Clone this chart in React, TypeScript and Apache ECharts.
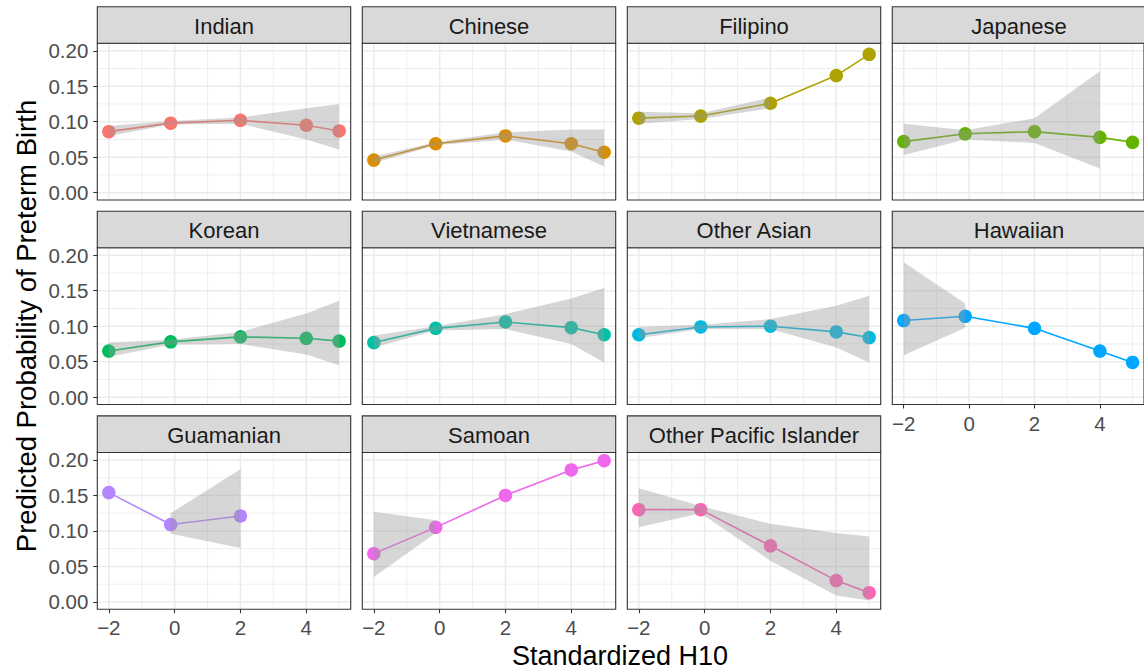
import React, { useEffect, useRef } from "react";
import * as echarts from "echarts";

// ---------- data ----------
const groups = [
  "Indian", "Chinese", "Filipino", "Japanese", "Korean", "Vietnamese",
  "Other Asian", "Hawaiian", "Guamanian", "Samoan", "Other Pacific Islander",
];
const groupColors = [
  "#F8766D", "#DB8E00", "#AEA200", "#64B200", "#00BD5C", "#00C1A7",
  "#00BADE", "#00A6FF", "#B385FF", "#EF67EB", "#FF63B6",
];
const h10 = [-2, -0.12, 2, 4, 5];
const xTicks = [-2, 0, 2, 4];
const xMinorTicks = [-1, 1, 3, 5];
const yTicks = [0, 0.05, 0.1, 0.15, 0.2];
const yMinorTicks = [0.025, 0.075, 0.125, 0.175];

const fitIndian = [0.086, 0.098, 0.102, 0.095, 0.087];
const loIndian = [0.080, 0.096, 0.097, 0.075, 0.061];
const hiIndian = [0.094, 0.101, 0.106, 0.119, 0.125];

const fitChinese = [0.046, 0.069, 0.080, 0.069, 0.057];
const loChinese = [0.042, 0.067, 0.075, 0.058, 0.037];
const hiChinese = [0.051, 0.071, 0.085, 0.089, 0.089];

const fitFilipino = [0.105, 0.108, 0.126, 0.165, 0.195];
const loFilipino = [0.097, 0.104, 0.119, null, null];
const hiFilipino = [0.114, 0.112, 0.134, null, null];

const fitJapanese = [0.072, 0.083, 0.086, 0.078, 0.071];
const loJapanese = [0.053, 0.075, 0.070, 0.034, null];
const hiJapanese = [0.097, 0.088, 0.105, 0.171, null];

const fitKorean = [0.065, 0.078, 0.085, 0.083, 0.079];
const loKorean = [0.057, 0.074, 0.075, 0.060, 0.045];
const hiKorean = [0.077, 0.081, 0.092, 0.118, 0.136];

const fitVietnamese = [0.077, 0.097, 0.106, 0.098, 0.088];
const loVietnamese = [0.070, 0.094, 0.096, 0.075, 0.049];
const hiVietnamese = [0.087, 0.100, 0.117, 0.139, 0.154];

const fitOtherAsian = [0.088, 0.099, 0.100, 0.092, 0.084];
const loOtherAsian = [0.083, 0.096, 0.096, 0.070, 0.049];
const hiOtherAsian = [0.099, 0.102, 0.110, 0.129, 0.143];

const fitHawaiian = [0.108, 0.114, 0.097, 0.065, 0.049];
const loHawaiian = [0.059, 0.098, null, null, null];
const hiHawaiian = [0.190, 0.132, null, null, null];

const fitGuamanian = [0.154, 0.109, 0.121, null, null];
const loGuamanian = [null, 0.096, 0.076, null, null];
const hiGuamanian = [null, 0.125, 0.187, null, null];

const fitSamoan = [0.068, 0.105, 0.150, 0.186, 0.199];
const loSamoan = [0.035, 0.097, null, null, null];
const hiSamoan = [0.127, 0.115, null, null, null];

const fitOPI = [0.130, 0.130, 0.079, 0.030, 0.013];
const loOPI = [0.105, 0.125, 0.058, 0.009, 0.002];
const hiOPI = [0.160, 0.135, 0.110, 0.097, 0.092];

const fits = [fitIndian, fitChinese, fitFilipino, fitJapanese, fitKorean, fitVietnamese, fitOtherAsian, fitHawaiian, fitGuamanian, fitSamoan, fitOPI];
const lows = [loIndian, loChinese, loFilipino, loJapanese, loKorean, loVietnamese, loOtherAsian, loHawaiian, loGuamanian, loSamoan, loOPI];
const highs = [hiIndian, hiChinese, hiFilipino, hiJapanese, hiKorean, hiVietnamese, hiOtherAsian, hiHawaiian, hiGuamanian, hiSamoan, hiOPI];

const xTitle = "Standardized H10";
const yTitle = "Predicted Probability of Preterm Birth";

// ---------- layout ----------
const X_MIN = -2.35, X_MAX = 5.35;
const Y_MIN = -0.0103, Y_MAX = 0.2105;
const colLeft = [97.3, 362.3, 627.3, 892.3];
const rowTop = [43.3, 247.8, 452.5];
const PW = 253.4, PH = 156.7, SH = 36.6;
const FONT = "'Liberation Sans', Arial, Helvetica, sans-serif";
const GRID = "#EBEBEB";
const BORDER = "#333333";

function fmtX(v: number) {
  return v < 0 ? "\u2212" + Math.abs(v) : String(v);
}

export default function App() {
  const ref = useRef<HTMLDivElement>(null);
  useEffect(() => {
    if (!ref.current) return;
    const chart = echarts.init(ref.current, undefined, { renderer: "svg" });
    const grids: any[] = [];
    const xAxes: any[] = [];
    const yAxes: any[] = [];
    const series: any[] = [];
    const graphics: any[] = [];

    groups.forEach((name, i) => {
      const col = i % 4;
      const row = Math.floor(i / 4);
      const left = colLeft[col];
      const top = rowTop[row];
      const showX = row === 2 || i === 7;
      const showY = col === 0;
      grids.push({
        left, top, width: PW, height: PH,
        show: true, borderColor: BORDER, borderWidth: 1.1, backgroundColor: "transparent",
        z: 5,
      });
      xAxes.push({
        type: "value", gridIndex: i, min: X_MIN, max: X_MAX, position: "bottom",
        axisLine: { show: false, onZero: false },
        splitLine: { show: false },
        axisTick: { show: showX, customValues: xTicks, length: 4, lineStyle: { color: BORDER, width: 1.1 } },
        axisLabel: {
          show: showX, customValues: xTicks, formatter: (v: number) => fmtX(v),
          fontSize: 20.5, color: "#4D4D4D", fontFamily: FONT, margin: 8,
        },
      });
      yAxes.push({
        type: "value", gridIndex: i, min: Y_MIN, max: Y_MAX, position: "left",
        axisLine: { show: false, onZero: false },
        splitLine: { show: false },
        axisTick: { show: showY, customValues: yTicks, length: 4, lineStyle: { color: BORDER, width: 1.1 } },
        axisLabel: {
          show: showY, customValues: yTicks, formatter: (v: number) => v.toFixed(2),
          fontSize: 20.5, color: "#4D4D4D", fontFamily: FONT, margin: 9,
        },
      });

      // grid lines
      series.push({
        type: "custom", xAxisIndex: i, yAxisIndex: i, z: 0, silent: true,
        data: [[0, 0.1]],
        renderItem: (_p: any, api: any) => {
          const children: any[] = [];
          const a = api.coord([X_MIN, Y_MIN]);
          const b = api.coord([X_MAX, Y_MAX]);
          const vline = (v: number, w: number) => {
            const p = api.coord([v, Y_MIN]);
            children.push({ type: "line", shape: { x1: p[0], y1: a[1], x2: p[0], y2: b[1] }, style: { stroke: GRID, lineWidth: w } });
          };
          const hline = (v: number, w: number) => {
            const p = api.coord([X_MIN, v]);
            children.push({ type: "line", shape: { x1: a[0], y1: p[1], x2: b[0], y2: p[1] }, style: { stroke: GRID, lineWidth: w } });
          };
          xMinorTicks.forEach((v) => vline(v, 0.8));
          yMinorTicks.forEach((v) => hline(v, 0.8));
          xTicks.forEach((v) => vline(v, 1.5));
          yTicks.forEach((v) => hline(v, 1.5));
          return { type: "group", children };
        },
      });

      // line + points
      const fit = fits[i];
      const pts = h10.map((x, k) => [x, fit[k]]).filter((d) => d[1] !== null);
      series.push({
        type: "line", name, xAxisIndex: i, yAxisIndex: i, z: 2,
        data: pts, symbol: "circle", symbolSize: 13.5, showSymbol: true,
        itemStyle: { color: groupColors[i] },
        lineStyle: { color: groupColors[i], width: 1.6 },
        silent: true,
      });

      // ribbon
      const lo = lows[i];
      const hi = highs[i];
      series.push({
        type: "custom", xAxisIndex: i, yAxisIndex: i, z: 3, silent: true,
        data: [[0, 0.1]],
        renderItem: (_p: any, api: any) => {
          const up: number[][] = [];
          const dn: number[][] = [];
          h10.forEach((x, k) => {
            if (lo[k] !== null && hi[k] !== null) {
              up.push(api.coord([x, hi[k]]));
              dn.push(api.coord([x, lo[k]]));
            }
          });
          const points = up.concat(dn.reverse());
          return { type: "polygon", shape: { points }, style: { fill: "rgba(153,153,153,0.4)" } };
        },
      });

      // strip
      graphics.push({
        type: "rect", x: left, y: top - SH, z: 10,
        shape: { x: 0, y: 0, width: PW, height: SH },
        style: { fill: "#D9D9D9", stroke: BORDER, lineWidth: 1.1 },
      });
      graphics.push({
        type: "text", x: left + PW / 2, y: top - SH / 2 + 1, z: 11,
        style: { text: name, fontSize: 22, fontFamily: FONT, fill: "#1A1A1A", align: "center", verticalAlign: "middle" },
      });
    });

    graphics.push({
      type: "text", x: 620, y: 656, z: 11,
      style: { text: xTitle, fontSize: 27, fontFamily: FONT, fill: "#000000", align: "center", verticalAlign: "middle" },
    });
    graphics.push({
      type: "text", x: 26, y: 326, rotation: Math.PI / 2, z: 11,
      style: { text: yTitle, fontSize: 27.5, fontFamily: FONT, fill: "#000000", align: "center", verticalAlign: "middle" },
    });

    chart.setOption({
      animation: false,
      backgroundColor: "#FFFFFF",
      grid: grids,
      xAxis: xAxes,
      yAxis: yAxes,
      series,
      graphic: { elements: graphics },
    });
    return () => chart.dispose();
  }, []);
  return <div ref={ref} style={{ position: "fixed", left: 0, top: 0, width: 1144, height: 672 }} />;
}
